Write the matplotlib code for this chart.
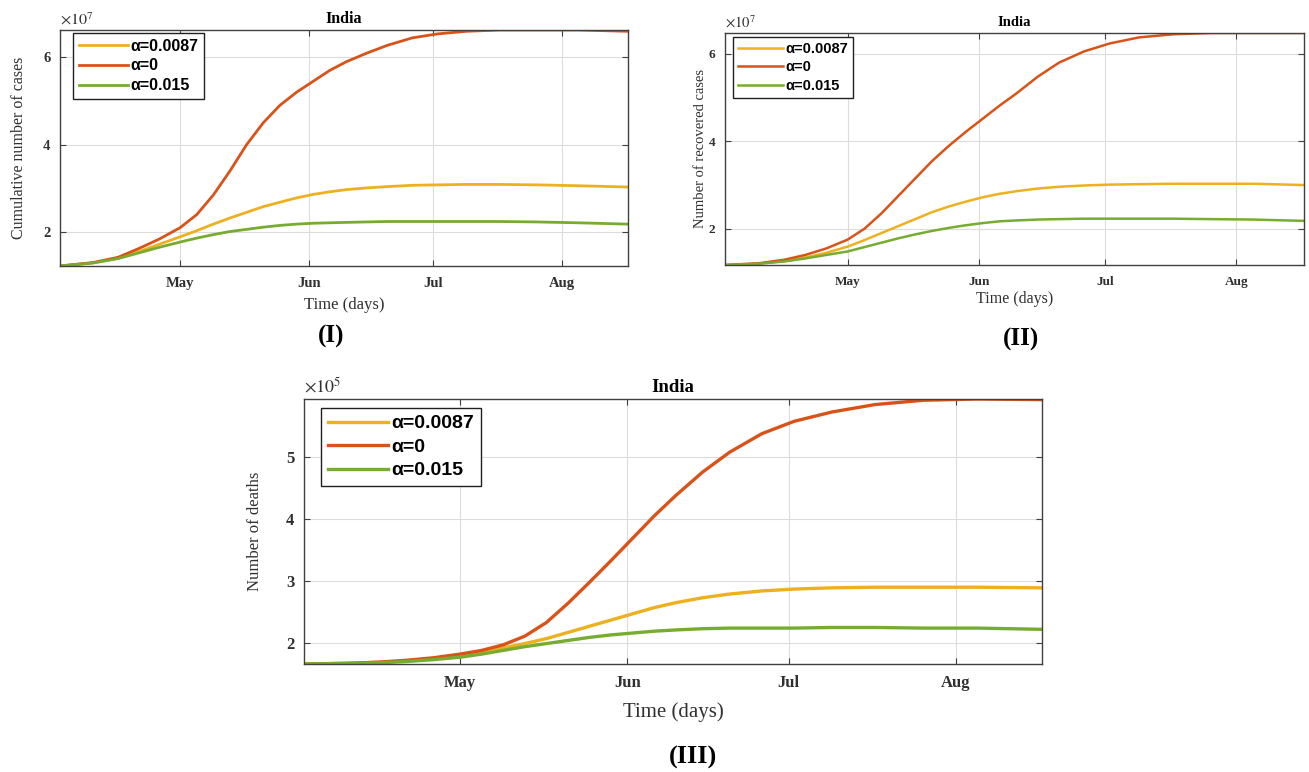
import numpy as np
import matplotlib
matplotlib.use("Agg")
import matplotlib.pyplot as plt

plt.rcParams['mathtext.fontset'] = 'stix'

dates = np.array(['2021-04-02', '2021-04-10', '2021-04-16', '2021-04-21', '2021-04-26',
                  '2021-05-01', '2021-05-05', '2021-05-09', '2021-05-13', '2021-05-17',
                  '2021-05-21', '2021-05-25', '2021-05-29', '2021-06-02', '2021-06-06',
                  '2021-06-10', '2021-06-15', '2021-06-20', '2021-06-26', '2021-07-02',
                  '2021-07-09', '2021-07-17', '2021-07-26', '2021-08-05', '2021-08-17'],
                 dtype='datetime64[D]')

labels = ['α=0.0087', 'α=0', 'α=0.015']
colors = ['#EDB120', '#D95319', '#77AC30']

# (I) cumulative cases, x 1e7
cases_a0087 = [1.22, 1.29, 1.40, 1.55, 1.72, 1.89, 2.03, 2.18, 2.32, 2.45, 2.58, 2.68, 2.78,
               2.86, 2.92, 2.97, 3.01, 3.04, 3.07, 3.08, 3.09, 3.09, 3.08, 3.06, 3.03]
cases_a0 = [1.22, 1.30, 1.42, 1.62, 1.84, 2.10, 2.40, 2.85, 3.40, 4.00, 4.50, 4.90, 5.20,
            5.45, 5.70, 5.90, 6.10, 6.28, 6.45, 6.54, 6.60, 6.63, 6.63, 6.63, 6.60]
cases_a015 = [1.22, 1.29, 1.39, 1.52, 1.65, 1.77, 1.86, 1.94, 2.01, 2.06, 2.11, 2.15, 2.18,
              2.20, 2.21, 2.22, 2.23, 2.24, 2.24, 2.24, 2.24, 2.24, 2.23, 2.21, 2.18]

# (II) recovered cases, x 1e7
rec_a0087 = [1.17, 1.20, 1.26, 1.34, 1.45, 1.59, 1.74, 1.90, 2.06, 2.22, 2.38, 2.51, 2.62,
             2.72, 2.80, 2.86, 2.92, 2.96, 2.99, 3.01, 3.02, 3.03, 3.03, 3.03, 3.00]
rec_a0 = [1.17, 1.21, 1.29, 1.40, 1.55, 1.75, 2.00, 2.35, 2.75, 3.15, 3.55, 3.90, 4.22,
          4.52, 4.82, 5.10, 5.48, 5.80, 6.06, 6.24, 6.38, 6.45, 6.48, 6.48, 6.48]
rec_a015 = [1.17, 1.20, 1.25, 1.32, 1.40, 1.48, 1.58, 1.68, 1.78, 1.87, 1.95, 2.02, 2.08,
            2.13, 2.17, 2.19, 2.21, 2.22, 2.23, 2.23, 2.23, 2.23, 2.22, 2.21, 2.18]

# (III) deaths, x 1e5
deaths_a0087 = [1.66, 1.67, 1.69, 1.71, 1.75, 1.80, 1.85, 1.92, 1.99, 2.07, 2.17, 2.27, 2.37,
                2.47, 2.57, 2.65, 2.73, 2.79, 2.84, 2.87, 2.89, 2.90, 2.90, 2.90, 2.89]
deaths_a0 = [1.66, 1.67, 1.69, 1.72, 1.76, 1.82, 1.88, 1.97, 2.11, 2.33, 2.64, 2.98, 3.33,
             3.69, 4.05, 4.38, 4.76, 5.08, 5.38, 5.58, 5.73, 5.85, 5.92, 5.94, 5.93]
deaths_a015 = [1.66, 1.67, 1.68, 1.70, 1.73, 1.77, 1.82, 1.88, 1.94, 1.99, 2.04, 2.09, 2.13,
               2.16, 2.19, 2.21, 2.23, 2.24, 2.24, 2.24, 2.25, 2.25, 2.24, 2.24, 2.22]

month_ticks = np.array(['2021-05-01', '2021-06-01', '2021-07-01', '2021-08-01'], dtype='datetime64[D]')
month_names = ['May', 'Jun', 'Jul', 'Aug']

serif = 'Liberation Serif'
sans = 'Liberation Sans'

W, H = 1309, 772
fig = plt.figure(figsize=(W / 100, H / 100), dpi=100)


def px_axes(l, t, r, b):
    return fig.add_axes([l / W, 1 - b / H, (r - l) / W, (b - t) / H])


def panel(ax, series, ylim, yticks, power, ylabel, ylab_x, ylab_fs, fs_tick, fs_lab, xlab_pad,
          fs_title, fs_leg, leg_at, lw):
    for y, c, lab in zip(series, colors, labels):
        ax.plot(dates, y, color=c, lw=lw, label=lab)
    ax.set_xlim(np.datetime64('2021-04-02'), np.datetime64('2021-08-17'))
    ax.set_ylim(*ylim)
    ax.set_xticks(month_ticks)
    ax.set_xticklabels(month_names)
    ax.set_yticks(yticks)
    ax.set_yticklabels([str(v) for v in yticks])
    for t in ax.get_xticklabels() + ax.get_yticklabels():
        t.set_fontfamily(serif)
        t.set_fontweight('bold')
        t.set_fontsize(fs_tick)
        t.set_color('#303030')
    ax.tick_params(direction='in', top=True, right=True, length=4, color='#404040')
    ax.tick_params(axis='x', pad=8)
    ax.tick_params(axis='y', pad=7)
    ax.grid(True, color='#dcdcdc', lw=0.8)
    for s in ax.spines.values():
        s.set_color('#404040')
        s.set_linewidth(1.0)
    ax.set_title('India', fontfamily=serif, fontweight='bold', fontsize=fs_title, pad=5)
    ax.set_xlabel('Time (days)', fontfamily=serif, fontsize=fs_lab, color='#303030', labelpad=xlab_pad)
    ax.set_ylabel(ylabel, fontfamily=serif, fontsize=ylab_fs, color='#303030')
    ax.yaxis.set_label_coords(ylab_x, 0.5)
    ax.text(0.0, 1.012, r'$\times10^{%d}$' % power, transform=ax.transAxes,
            fontsize=fs_tick + 1, color='#303030', va='bottom', ha='left')
    leg = ax.legend(loc='upper left', bbox_to_anchor=leg_at,
                    prop={'family': sans, 'weight': 'bold', 'size': fs_leg},
                    handlelength=3.1, handletextpad=0.15, borderpad=0.35, labelspacing=0.3,
                    fancybox=False, framealpha=1, edgecolor='#202020', borderaxespad=0)
    leg.get_frame().set_linewidth(1.0)


ax1 = px_axes(60, 30, 628, 266)
panel(ax1, [cases_a0087, cases_a0, cases_a015], (1.22, 6.63), [2, 4, 6], 7,
      'Cumulative number of cases', -0.058, 11.5, 10.5, 12, 5, 11.5, 11.5, (0.023, 0.987), 2.0)

ax2 = px_axes(725, 33, 1304, 265)
panel(ax2, [rec_a0087, rec_a0, rec_a015], (1.17, 6.48), [2, 4, 6], 7,
      'Number of recovered cases', -0.031, 10.5, 9.5, 11.5, 2, 10.5, 10.5, (0.014, 0.983), 1.8)

ax3 = px_axes(304, 399, 1042, 664)
panel(ax3, [deaths_a0087, deaths_a0, deaths_a015], (1.66, 5.94), [2, 3, 4, 5], 5,
      'Number of deaths', -0.056, 12, 12, 15, 8, 13.5, 14, (0.023, 0.966), 2.4)

fig.text(331 / W, 1 - 336 / H, '(I)', fontfamily=serif, fontweight='bold', fontsize=18, ha='center', va='center')
fig.text(1021 / W, 1 - 339 / H, '(II)', fontfamily=serif, fontweight='bold', fontsize=18, ha='center', va='center')
fig.text(693 / W, 1 - 757 / H, '(III)', fontfamily=serif, fontweight='bold', fontsize=19, ha='center', va='center')

fig.savefig('out.png', dpi=100)
